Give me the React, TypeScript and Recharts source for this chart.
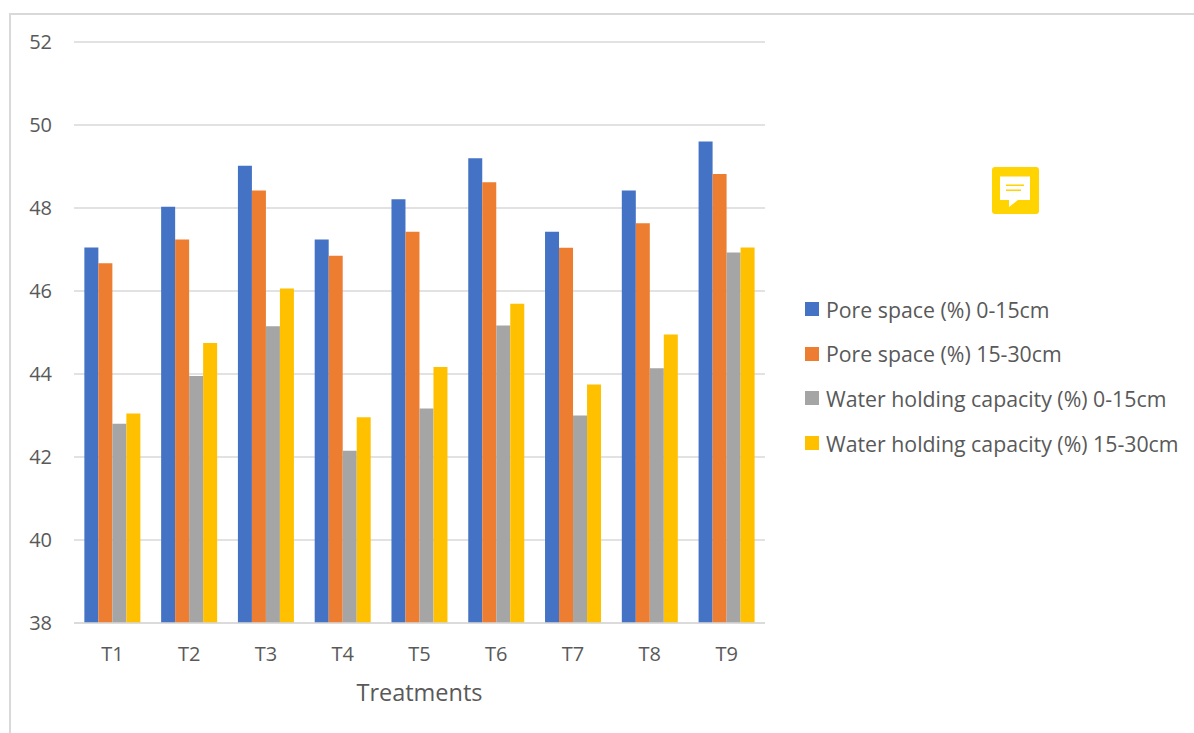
import { BarChart, Bar, XAxis, YAxis, CartesianGrid, Legend } from 'recharts';

const treatments = ['T1', 'T2', 'T3', 'T4', 'T5', 'T6', 'T7', 'T8', 'T9'];
const poreTop = [47.05, 48.03, 49.02, 47.24, 48.21, 49.2, 47.43, 48.42, 49.6];
const poreSub = [46.67, 47.24, 48.42, 46.85, 47.43, 48.62, 47.04, 47.63, 48.82];
const waterTop = [42.8, 43.95, 45.15, 42.15, 43.17, 45.17, 43.0, 44.14, 46.93];
const waterSub = [43.05, 44.75, 46.06, 42.96, 44.17, 45.69, 43.75, 44.95, 47.05];
const yTicks = [38, 40, 42, 44, 46, 48, 50, 52];

const seriesNames = [
  'Pore space (%) 0-15cm',
  'Pore space (%) 15-30cm',
  'Water holding capacity (%) 0-15cm',
  'Water holding capacity (%) 15-30cm',
];
const seriesColors = ['#4472c4', '#ed7d31', '#a5a5a5', '#ffc000'];
const seriesValues = [poreTop, poreSub, waterTop, waterSub];

const data = treatments.map((name, i) => {
  const row: Record<string, string | number> = { name };
  seriesNames.forEach((s, j) => {
    row[s] = seriesValues[j][i];
  });
  return row;
});

const FONT = '"Open Sans", sans-serif';
const TEXT = '#595959';
const LINE = '#d9d9d9';

const renderLegend = () => (
  <div style={{ fontFamily: FONT, fontSize: 21.3, color: TEXT }}>
    {seriesNames.map((s, i) => (
      <div key={s} style={{ display: 'flex', alignItems: 'center', height: 44.6, whiteSpace: 'nowrap' }}>
        <span style={{ width: 14, height: 14, background: seriesColors[i], marginRight: 7, flex: 'none' }} />
        {s}
      </div>
    ))}
  </div>
);

// yellow comment note in the upper right
const NoteIcon = () => (
  <svg width={48} height={48} style={{ position: 'absolute', left: 992, top: 166 }}>
    <rect x={0} y={1} width={47} height={47} rx={3} fill="#ffd400" />
    <path d="M8 10.5 H38 V34 H26 L17 41 V34 H8 Z" fill="#fff" />
    <rect x={14} y={18.5} width={18} height={1.5} fill="#ffd400" />
    <rect x={14} y={23.5} width={15} height={1.5} fill="#ffd400" />
  </svg>
);

export default function App() {
  return (
    <div style={{ position: 'absolute', left: 0, top: 0, width: 1194, height: 733, background: '#fff', overflow: 'hidden' }}>
      <div style={{ position: 'absolute', left: 9, top: 13, width: 1200, height: 740, border: `2px solid ${LINE}`, boxSizing: 'border-box' }} />
      <BarChart
        width={1194}
        height={733}
        data={data}
        margin={{ top: 42, right: 44, bottom: 20, left: 14 }}
        barCategoryGap="13.5%"
        barGap={0}
      >
        <CartesianGrid vertical={false} stroke={LINE} strokeWidth={1.5} />
        <XAxis
          dataKey="name"
          axisLine={{ stroke: LINE, strokeWidth: 1.5 }}
          tickLine={false}
          tick={{ fill: TEXT, fontSize: 20, fontFamily: FONT }}
          tickMargin={18}
          height={90}
          label={{ value: 'Treatments', position: 'insideBottom', offset: 12, fill: TEXT, fontSize: 23.5, fontFamily: FONT }}
        />
        <YAxis
          domain={[38, 52]}
          ticks={yTicks}
          width={60}
          axisLine={false}
          tickLine={false}
          tick={{ fill: TEXT, fontSize: 20, fontFamily: FONT }}
          tickMargin={16}
        />
        <Legend
          layout="vertical"
          align="right"
          content={renderLegend}
          wrapperStyle={{ position: 'absolute', left: 805, top: 287, width: 385 }}
        />
        {seriesNames.map((s, i) => (
          <Bar key={s} dataKey={s} fill={seriesColors[i]} isAnimationActive={false} />
        ))}
      </BarChart>
      <NoteIcon />
    </div>
  );
}
